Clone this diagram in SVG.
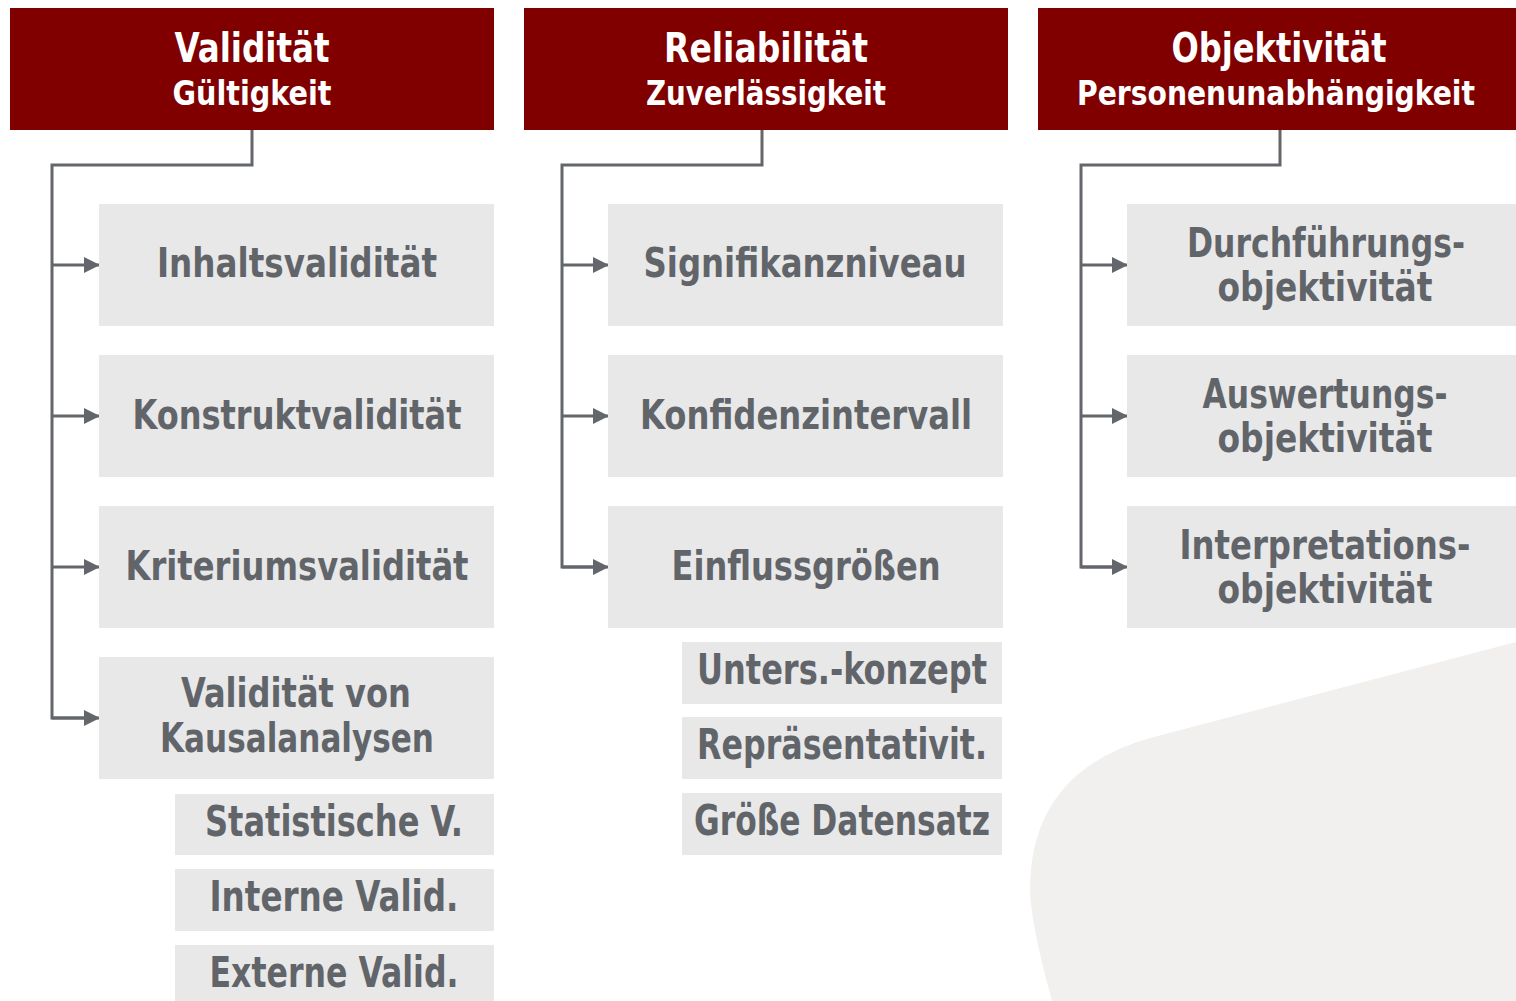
<svg xmlns="http://www.w3.org/2000/svg" width="1516" height="1001" viewBox="0 0 1516 1001">
<style>
  .hdr { fill: #800000; }
  .box { fill: #e8e8e9; }
  .ht { font-family: "DejaVu Sans Condensed", "DejaVu Sans", sans-serif; font-stretch: condensed; font-weight: bold; fill: #ffffff; text-anchor: middle; }
  .bt { font-family: "DejaVu Sans Condensed", "DejaVu Sans", sans-serif; font-stretch: condensed; font-weight: bold; fill: #616569; text-anchor: middle; }
  .h1 { font-size: 41px; }
  .h2 { font-size: 33px; }
  .t1 { font-size: 40px; }
  .t2 { font-size: 43px; }
  .conn { fill: none; stroke: #63676b; stroke-width: 3; }
</style>
<defs>
  <marker id="arr" markerWidth="16" markerHeight="16" refX="16" refY="8" orient="auto" markerUnits="userSpaceOnUse">
    <path d="M0,0 L16,8 L0,16 Z" fill="#63676b"/>
  </marker>
</defs>
<rect width="1516" height="1001" fill="#ffffff"/>
<path id="bg-shape" d="M1516,642 L1150,738 Q1030,772 1030,890 Q1031,925 1052,1001 L1516,1001 Z" fill="#f1f0ef"/>

<g id="connectors">
  <path class="conn" d="M252,130 V165 H52 V718 H86"/>
  <line class="conn" x1="52" y1="265" x2="100" y2="265" marker-end="url(#arr)"/>
  <line class="conn" x1="52" y1="416" x2="100" y2="416" marker-end="url(#arr)"/>
  <line class="conn" x1="52" y1="567" x2="100" y2="567" marker-end="url(#arr)"/>
  <line class="conn" x1="52" y1="718" x2="100" y2="718" marker-end="url(#arr)"/>
  <path class="conn" d="M762,130 V165 H562 V567 H596"/>
  <line class="conn" x1="562" y1="265" x2="609" y2="265" marker-end="url(#arr)"/>
  <line class="conn" x1="562" y1="416" x2="609" y2="416" marker-end="url(#arr)"/>
  <line class="conn" x1="562" y1="567" x2="609" y2="567" marker-end="url(#arr)"/>
  <path class="conn" d="M1280,130 V165 H1081 V567 H1115"/>
  <line class="conn" x1="1081" y1="265" x2="1128" y2="265" marker-end="url(#arr)"/>
  <line class="conn" x1="1081" y1="416" x2="1128" y2="416" marker-end="url(#arr)"/>
  <line class="conn" x1="1081" y1="567" x2="1128" y2="567" marker-end="url(#arr)"/>
</g>

<g id="hdr-validitaet">
  <rect class="hdr" x="10" y="8" width="484" height="122"/>
  <text class="ht h1" x="252" y="62" textLength="155" lengthAdjust="spacingAndGlyphs">Validität</text>
  <text class="ht h2" x="252" y="105" textLength="159" lengthAdjust="spacingAndGlyphs">Gültigkeit</text>
</g>
<g id="hdr-reliabilitaet">
  <rect class="hdr" x="524" y="8" width="484" height="122"/>
  <text class="ht h1" x="766" y="62" textLength="204" lengthAdjust="spacingAndGlyphs">Reliabilität</text>
  <text class="ht h2" x="766" y="105" textLength="240" lengthAdjust="spacingAndGlyphs">Zuverlässigkeit</text>
</g>
<g id="hdr-objektivitaet">
  <rect class="hdr" x="1038" y="8" width="478" height="122"/>
  <text class="ht h1" x="1279" y="62" textLength="215" lengthAdjust="spacingAndGlyphs">Objektivität</text>
  <text class="ht h2" x="1276" y="105" textLength="398" lengthAdjust="spacingAndGlyphs">Personenunabhängigkeit</text>
</g>

<g id="n-inhalt">
  <rect class="box" x="99" y="204" width="395" height="122"/>
  <text class="bt t1" x="297" y="277" textLength="280" lengthAdjust="spacingAndGlyphs">Inhaltsvalidität</text>
</g>
<g id="n-konstrukt">
  <rect class="box" x="99" y="355" width="395" height="122"/>
  <text class="bt t1" x="297" y="429" textLength="329" lengthAdjust="spacingAndGlyphs">Konstruktvalidität</text>
</g>
<g id="n-kriterium">
  <rect class="box" x="99" y="506" width="395" height="122"/>
  <text class="bt t1" x="297" y="580" textLength="343" lengthAdjust="spacingAndGlyphs">Kriteriumsvalidität</text>
</g>
<g id="n-kausal">
  <rect class="box" x="99" y="657" width="395" height="122"/>
  <text class="bt t1" x="296" y="707" textLength="230" lengthAdjust="spacingAndGlyphs">Validität von</text>
  <text class="bt t1" x="297" y="752" textLength="274" lengthAdjust="spacingAndGlyphs">Kausalanalysen</text>
</g>
<g id="n-statistisch">
  <rect class="box" x="175" y="794" width="319" height="61"/>
  <text class="bt t2" x="334" y="836" textLength="258" lengthAdjust="spacingAndGlyphs">Statistische V.</text>
</g>
<g id="n-intern">
  <rect class="box" x="175" y="869" width="319" height="62"/>
  <text class="bt t2" x="334" y="911" textLength="249" lengthAdjust="spacingAndGlyphs">Interne Valid.</text>
</g>
<g id="n-extern">
  <rect class="box" x="175" y="945" width="319" height="62"/>
  <text class="bt t2" x="334" y="987" textLength="249" lengthAdjust="spacingAndGlyphs">Externe Valid.</text>
</g>

<g id="n-signifikanz">
  <rect class="box" x="608" y="204" width="395" height="122"/>
  <text class="bt t1" x="805" y="277" textLength="323" lengthAdjust="spacingAndGlyphs">Signifikanzniveau</text>
</g>
<g id="n-konfidenz">
  <rect class="box" x="608" y="355" width="395" height="122"/>
  <text class="bt t1" x="806" y="429" textLength="332" lengthAdjust="spacingAndGlyphs">Konfidenzintervall</text>
</g>
<g id="n-einfluss">
  <rect class="box" x="608" y="506" width="395" height="122"/>
  <text class="bt t1" x="806" y="580" textLength="269" lengthAdjust="spacingAndGlyphs">Einflussgrößen</text>
</g>
<g id="n-unters">
  <rect class="box" x="682" y="642" width="320" height="62"/>
  <text class="bt t2" x="842" y="684" textLength="290" lengthAdjust="spacingAndGlyphs">Unters.-konzept</text>
</g>
<g id="n-repraes">
  <rect class="box" x="682" y="717" width="320" height="62"/>
  <text class="bt t2" x="842" y="759" textLength="290" lengthAdjust="spacingAndGlyphs">Repräsentativit.</text>
</g>
<g id="n-groesse">
  <rect class="box" x="682" y="793" width="320" height="62"/>
  <text class="bt t2" x="842" y="835" textLength="296" lengthAdjust="spacingAndGlyphs">Größe Datensatz</text>
</g>

<g id="n-durchf">
  <rect class="box" x="1127" y="204" width="389" height="122"/>
  <text class="bt t1" x="1326" y="257" textLength="278" lengthAdjust="spacingAndGlyphs">Durchführungs-</text>
  <text class="bt t1" x="1325" y="301" textLength="215" lengthAdjust="spacingAndGlyphs">objektivität</text>
</g>
<g id="n-auswert">
  <rect class="box" x="1127" y="355" width="389" height="122"/>
  <text class="bt t1" x="1325" y="408" textLength="245" lengthAdjust="spacingAndGlyphs">Auswertungs-</text>
  <text class="bt t1" x="1325" y="452" textLength="215" lengthAdjust="spacingAndGlyphs">objektivität</text>
</g>
<g id="n-interpret">
  <rect class="box" x="1127" y="506" width="389" height="122"/>
  <text class="bt t1" x="1325" y="559" textLength="291" lengthAdjust="spacingAndGlyphs">Interpretations-</text>
  <text class="bt t1" x="1325" y="603" textLength="215" lengthAdjust="spacingAndGlyphs">objektivität</text>
</g>
</svg>
